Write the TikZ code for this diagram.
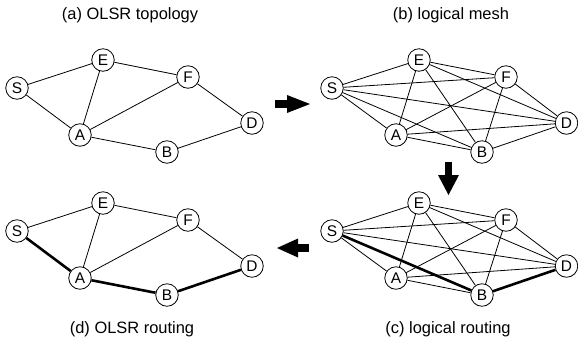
\documentclass[tikz,border=0pt]{standalone}
\usepackage{fontspec}
\setmainfont{Liberation Sans}
\begin{document}
\begin{tikzpicture}[x=1bp,y=-1bp,
  vtx/.style={circle,draw,line width=0.8pt,fill=white,minimum size=22.5bp,inner sep=0pt,font=\fontsize{15.5}{16}\selectfont},
  edge/.style={line width=0.8pt},
  route/.style={line width=2.6pt},
  caption/.style={font=\fontsize{16.5}{17}\selectfont},
  bigarrow/.style={fill=black,draw=none}]
\useasboundingbox (0,0) rectangle (578,342);

% node placement for one sparse panel: prefix, x offset, y offset
\newcommand\panelnodes[3]{%
  \begin{scope}[shift={(#2,#3)}]
    \node[vtx] (#1S) at (17,88)  {S};
    \node[vtx] (#1E) at (103,60) {E};
    \node[vtx] (#1F) at (188,77) {F};
    \node[vtx] (#1D) at (252,123) {D};
    \node[vtx] (#1A) at (80,135) {A};
    \node[vtx] (#1B) at (167,152) {B};
  \end{scope}}
% node placement for one mesh panel: prefix, x offset, y offset
\newcommand\meshnodes[3]{%
  \begin{scope}[shift={(#2,#3)}]
    \node[vtx] (#1S) at (332,88)  {S};
    \node[vtx] (#1E) at (419,60) {E};
    \node[vtx] (#1F) at (506,77) {F};
    \node[vtx] (#1D) at (566.5,123) {D};
    \node[vtx] (#1A) at (396,135) {A};
    \node[vtx] (#1B) at (482,152) {B};
  \end{scope}}

% captions
\node[caption] (ta) at (130,15) {(a) OLSR topology};
\node[caption] (tb) at (451,15) {(b) logical mesh};
\node[caption] (td) at (132,329) {(d) OLSR routing};
\node[caption] (tc) at (448,329) {(c) logical routing};

% (a) OLSR topology
\panelnodes{a}{0}{0}
\draw[edge] (aS) -- (aE) (aS) -- (aA) (aE) -- (aA) (aE) -- (aF)
            (aA) -- (aF) (aF) -- (aD) (aA) -- (aB) (aB) -- (aD);

% (b) logical mesh: complete graph
\meshnodes{b}{0}{0}
\foreach \u/\v in {S/E,S/F,S/D,S/A,S/B,E/F,E/D,E/A,E/B,F/A,F/B,F/D,A/D,A/B,B/D}
  \draw[edge] (b\u) -- (b\v);

% (c) logical routing
\meshnodes{c}{0}{143}
\foreach \u/\v in {S/E,S/F,S/D,S/A,E/F,E/D,E/A,E/B,F/A,F/B,F/D,A/D,A/B}
  \draw[edge] (c\u) -- (c\v);
\draw[route] (cS) -- (cB) (cB) -- (cD);

% (d) OLSR routing
\panelnodes{d}{0}{143}
\draw[edge] (dS) -- (dE) (dE) -- (dA) (dE) -- (dF) (dA) -- (dF) (dF) -- (dD);
\draw[route] (dS) -- (dA) (dA) -- (dB) (dB) -- (dD);

% block arrows between the panels
\fill[bigarrow] (275,100) rectangle (288,108);
\fill[bigarrow] (287,95) -- (310,104) -- (287,113) -- cycle;
\fill[bigarrow] (445,162) rectangle (452,176);
\fill[bigarrow] (438,175) -- (459,175) -- (448.5,195) -- cycle;
\fill[bigarrow] (297,244) rectangle (309,252);
\fill[bigarrow] (277,248) -- (298,238.5) -- (298,257.5) -- cycle;
\end{tikzpicture}
\end{document}
